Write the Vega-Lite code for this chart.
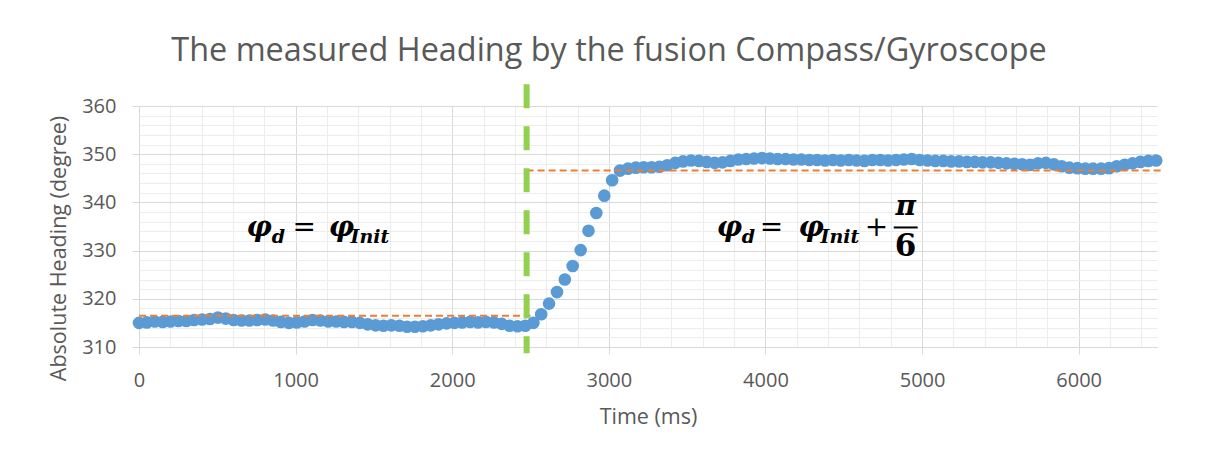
{
  "$schema": "https://vega.github.io/schema/vega-lite/v6.json",
  "width": 1018,
  "height": 241,
  "autosize": {"type": "none"},
  "padding": {"left": 139, "top": 106, "right": 52, "bottom": 115},
  "background": "white",
  "title": {"text": "The measured Heading by the fusion Compass/Gyroscope", "font": "Open Sans", "fontSize": 32.4, "fontWeight": "normal", "color": "#595959", "anchor": "middle", "dx": -39, "dy": 56, "baseline": "alphabetic", "offset": 44},
  "config": {
    "font": "Open Sans",
    "view": {"stroke": null},
    "axis": {"labelColor": "#595959", "titleColor": "#595959", "labelFont": "Open Sans", "titleFont": "Open Sans", "labelFontSize": 20, "titleFontSize": 21.5, "titleFontWeight": "normal", "labelFlush": false}
  },
  "resolve": {"axis": {"x": "independent", "y": "independent"}},
  "layer": [
    {
      "data": {"values": [
        {"t":0,"v":315.0},{"t":50,"v":315.1},{"t":101,"v":315.3},{"t":151,"v":315.2},{"t":201,"v":315.3},{"t":252,"v":315.4},{"t":302,"v":315.4},{"t":352,"v":315.6},{"t":403,"v":315.7},{"t":453,"v":315.8},
        {"t":504,"v":316.1},{"t":554,"v":315.9},{"t":604,"v":315.6},{"t":655,"v":315.5},{"t":705,"v":315.5},{"t":755,"v":315.6},{"t":806,"v":315.7},{"t":856,"v":315.5},{"t":906,"v":315.2},{"t":957,"v":315.0},
        {"t":1007,"v":315.1},{"t":1057,"v":315.3},{"t":1108,"v":315.6},{"t":1158,"v":315.5},{"t":1208,"v":315.3},{"t":1259,"v":315.3},{"t":1309,"v":315.2},{"t":1359,"v":315.2},{"t":1410,"v":315.0},{"t":1460,"v":314.7},
        {"t":1511,"v":314.5},{"t":1561,"v":314.4},{"t":1611,"v":314.5},{"t":1662,"v":314.4},{"t":1712,"v":314.2},{"t":1762,"v":314.2},{"t":1813,"v":314.3},{"t":1863,"v":314.5},{"t":1913,"v":314.7},{"t":1964,"v":314.9},
        {"t":2014,"v":315.0},{"t":2064,"v":315.1},{"t":2115,"v":315.2},{"t":2165,"v":315.1},{"t":2215,"v":315.2},{"t":2266,"v":315.1},{"t":2316,"v":314.8},{"t":2366,"v":314.4},{"t":2417,"v":314.3},{"t":2467,"v":314.4},
        {"t":2518,"v":315.0},{"t":2568,"v":316.8},{"t":2618,"v":319.0},{"t":2669,"v":321.4},{"t":2719,"v":324.0},{"t":2769,"v":326.8},{"t":2820,"v":330.1},{"t":2870,"v":334.1},{"t":2920,"v":337.8},{"t":2971,"v":341.4},
        {"t":3021,"v":344.6},{"t":3071,"v":346.6},{"t":3122,"v":347.0},{"t":3172,"v":347.2},{"t":3222,"v":347.3},{"t":3273,"v":347.3},{"t":3323,"v":347.4},{"t":3373,"v":347.7},{"t":3424,"v":348.2},{"t":3474,"v":348.5},
        {"t":3525,"v":348.7},{"t":3575,"v":348.6},{"t":3625,"v":348.4},{"t":3676,"v":348.2},{"t":3726,"v":348.3},{"t":3776,"v":348.6},{"t":3827,"v":348.9},{"t":3877,"v":349.0},{"t":3927,"v":349.1},{"t":3978,"v":349.2},
        {"t":4028,"v":349.1},{"t":4078,"v":349.0},{"t":4129,"v":349.0},{"t":4179,"v":348.9},{"t":4229,"v":348.9},{"t":4280,"v":348.8},{"t":4330,"v":348.8},{"t":4380,"v":348.7},{"t":4431,"v":348.8},{"t":4481,"v":348.7},
        {"t":4532,"v":348.8},{"t":4582,"v":348.7},{"t":4632,"v":348.6},{"t":4683,"v":348.8},{"t":4733,"v":348.8},{"t":4783,"v":348.7},{"t":4834,"v":348.8},{"t":4884,"v":348.9},{"t":4934,"v":349.0},{"t":4985,"v":348.8},
        {"t":5035,"v":348.7},{"t":5085,"v":348.6},{"t":5136,"v":348.6},{"t":5186,"v":348.5},{"t":5236,"v":348.5},{"t":5287,"v":348.4},{"t":5337,"v":348.4},{"t":5387,"v":348.3},{"t":5438,"v":348.3},{"t":5488,"v":348.2},
        {"t":5539,"v":348.1},{"t":5589,"v":348.0},{"t":5639,"v":347.9},{"t":5690,"v":347.8},{"t":5740,"v":348.1},{"t":5790,"v":348.2},{"t":5841,"v":347.9},{"t":5891,"v":347.5},{"t":5941,"v":347.2},{"t":5992,"v":347.1},
        {"t":6042,"v":347.0},{"t":6092,"v":347.0},{"t":6143,"v":347.0},{"t":6193,"v":347.1},{"t":6243,"v":347.5},{"t":6294,"v":347.8},{"t":6344,"v":348.1},{"t":6394,"v":348.4},{"t":6445,"v":348.6},{"t":6495,"v":348.7}
      ]},
      "mark": {"type": "circle", "size": 160, "color": "#5B9BD5", "opacity": 1},
      "encoding": {
        "x": {"field": "t", "type": "quantitative", "scale": {"domain": [0, 6500], "nice": false, "zero": false},
              "axis": {"orient": "bottom", "values": [0,200,400,600,800,1000,1200,1400,1600,1800,2000,2200,2400,2600,2800,3000,3200,3400,3600,3800,4000,4200,4400,4600,4800,5000,5200,5400,5600,5800,6000,6200,6400], "grid": true, "gridColor": "#EDEDED", "gridWidth": 1, "labels": false, "ticks": false, "domain": false, "title": null}},
        "y": {"field": "v", "type": "quantitative", "scale": {"domain": [310, 360], "nice": false, "zero": false},
              "axis": {"orient": "left", "values": [310,312,314,316,318,320,322,324,326,328,330,332,334,336,338,340,342,344,346,348,350,352,354,356,358,360], "grid": true, "gridColor": "#EDEDED", "gridWidth": 1, "labels": false, "ticks": false, "domain": false, "title": null}}
      }
    },
    {
      "data": {"values": [
        {"t0": 0, "t1": 2500, "v": 316.5},
        {"t0": 2475, "t1": 6540, "v": 346.6}
      ]},
      "mark": {"type": "rule", "color": "#ED7D31", "strokeWidth": 2, "strokeDash": [7, 4]},
      "encoding": {
        "x": {"field": "t0", "type": "quantitative", "scale": {"domain": [0, 6500], "nice": false, "zero": false},
              "axis": {"orient": "bottom", "values": [0,1000,2000,3000,4000,5000,6000], "format": "d", "grid": true, "gridColor": "#D9D9D9", "gridWidth": 1, "domain": true, "domainColor": "#D9D9D9", "domainWidth": 1, "ticks": true, "tickColor": "#D9D9D9", "tickSize": 7, "labelPadding": 16, "title": "Time (ms)", "titleY": 70, "titleBaseline": "middle"}},
        "x2": {"field": "t1"},
        "y": {"field": "v", "type": "quantitative", "scale": {"domain": [310, 360], "nice": false, "zero": false},
              "axis": {"orient": "left", "values": [310,320,330,340,350,360], "format": "d", "grid": true, "gridColor": "#D9D9D9", "gridWidth": 1, "domain": false, "ticks": true, "tickColor": "#D9D9D9", "tickSize": 7, "labelPadding": 16, "title": "Absolute Heading (degree)", "titleX": -80, "titleY": 142, "titleAngle": -90, "titleAlign": "center", "titleBaseline": "middle"}}
      }
    },
    {
      "data": {"values": [{"t": 2475, "top": 364.5, "bot": 308.7}]},
      "mark": {"type": "rule", "color": "#92D050", "strokeWidth": 6, "strokeDash": [24, 18]},
      "encoding": {
        "x": {"field": "t", "type": "quantitative", "axis": null},
        "y": {"field": "top", "type": "quantitative", "axis": null},
        "y2": {"field": "bot"}
      }
    },
    {
      "data": {"values": [
        {"t": 687, "v": 333.0, "s": "φ"},
        {"t": 1211, "v": 333.0, "s": "φ"},
        {"t": 3689, "v": 333.0, "s": "φ"},
        {"t": 4211, "v": 333.0, "s": "φ"}
      ]},
      "mark": {"type": "text", "font": "DejaVu Serif", "fontSize": 28, "fontWeight": "bold", "fontStyle": "italic", "color": "#000000", "align": "left", "baseline": "alphabetic"},
      "encoding": {
        "x": {"field": "t", "type": "quantitative", "axis": null},
        "y": {"field": "v", "type": "quantitative", "axis": null},
        "text": {"field": "s"}
      }
    },
    {
      "data": {"values": [
        {"t": 847, "v": 331.5, "s": "d"},
        {"t": 1351, "v": 331.5, "s": "Init"},
        {"t": 3848, "v": 331.5, "s": "d"},
        {"t": 4352, "v": 331.5, "s": "Init"}
      ]},
      "mark": {"type": "text", "font": "DejaVu Serif", "fontSize": 19, "fontWeight": "bold", "fontStyle": "italic", "color": "#000000", "align": "left", "baseline": "alphabetic"},
      "encoding": {
        "x": {"field": "t", "type": "quantitative", "axis": null},
        "y": {"field": "v", "type": "quantitative", "axis": null},
        "text": {"field": "s"}
      }
    },
    {
      "data": {"values": [
        {"t": 980, "v": 333.0, "s": "="},
        {"t": 3963, "v": 333.0, "s": "="},
        {"t": 4634, "v": 333.0, "s": "+"}
      ]},
      "mark": {"type": "text", "font": "DejaVu Serif", "fontSize": 28, "fontWeight": "normal", "color": "#000000", "align": "left", "baseline": "alphabetic"},
      "encoding": {
        "x": {"field": "t", "type": "quantitative", "axis": null},
        "y": {"field": "v", "type": "quantitative", "axis": null},
        "text": {"field": "s"}
      }
    },
    {
      "data": {"values": [{"t": 4895, "v": 337.4, "s": "π"}]},
      "mark": {"type": "text", "font": "DejaVu Serif", "fontSize": 28, "fontWeight": "bold", "fontStyle": "italic", "color": "#000000", "align": "center", "baseline": "alphabetic"},
      "encoding": {
        "x": {"field": "t", "type": "quantitative", "axis": null},
        "y": {"field": "v", "type": "quantitative", "axis": null},
        "text": {"field": "s"}
      }
    },
    {
      "data": {"values": [{"t": 4895, "v": 328.9, "s": "6"}]},
      "mark": {"type": "text", "font": "DejaVu Serif", "fontSize": 31, "fontWeight": "bold", "color": "#000000", "align": "center", "baseline": "alphabetic"},
      "encoding": {
        "x": {"field": "t", "type": "quantitative", "axis": null},
        "y": {"field": "v", "type": "quantitative", "axis": null},
        "text": {"field": "s"}
      }
    },
    {
      "data": {"values": [{"t0": 4819, "t1": 4972, "v": 334.8}]},
      "mark": {"type": "rule", "color": "#000000", "strokeWidth": 2},
      "encoding": {
        "x": {"field": "t0", "type": "quantitative", "axis": null},
        "x2": {"field": "t1"},
        "y": {"field": "v", "type": "quantitative", "axis": null}
      }
    }
  ]
}
